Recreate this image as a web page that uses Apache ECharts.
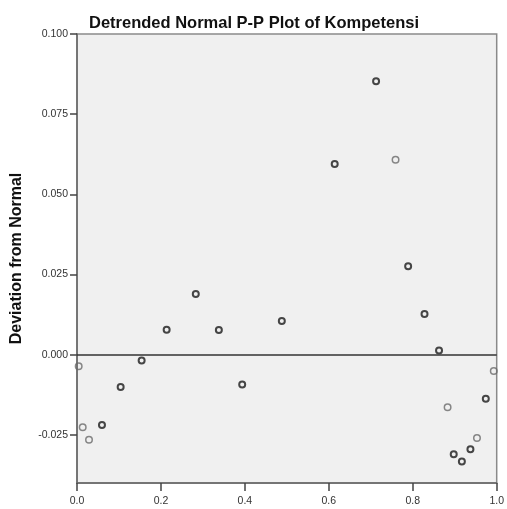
<!DOCTYPE html>
<html lang="en">
<head>
    <meta charset="UTF-8">
    <title>Detrended Normal P-P Plot of Kompetensi</title>
    <script type="text/javascript" src="https://cdn.jsdelivr.net/npm/echarts@6/dist/echarts.min.js"></script>
    <style>
        html, body { margin: 0; padding: 0; background: #fff; }
    </style>
</head>
<body>
<div id="main" style="width:507px;height:509px;"></div>
<script type="text/javascript">
    // observed cum prob vs deviation from normal - darker rings (ties)
    var darkX = [0.7126, 0.614, 0.789, 0.283, 0.2136, 0.338, 0.488, 0.828, 0.8626,
                 0.154, 0.104, 0.3936, 0.0595, 0.974, 0.8976, 0.917, 0.9374];
    var darkY = [0.0853, 0.0595, 0.0276, 0.0189, 0.0078, 0.0077, 0.0105, 0.0127, 0.0013,
                 -0.0018, -0.0101, -0.0093, -0.0219, -0.0137, -0.031, -0.0333, -0.0295];
    // lighter rings
    var lightX = [0.759, 0.004, 0.0136, 0.0286, 0.883, 0.993, 0.953];
    var lightY = [0.0608, -0.0036, -0.0226, -0.0265, -0.0164, -0.0051, -0.026];

    var xTicks = [0.0, 0.2, 0.4, 0.6, 0.8, 1.0];
    var yTicks = [-0.025, 0.000, 0.025, 0.050, 0.075, 0.100];

    function pairs(xs, ys) {
        var out = [];
        for (var i = 0; i < xs.length; i++) {
            out.push([xs[i], ys[i]]);
        }
        return out;
    }

    var myChart = echarts.init(document.getElementById('main'));
    var option = {
        animation: false,
        title: {
            text: 'Detrended Normal P-P Plot of Kompetensi',
            left: 249,
            textAlign: 'center',
            top: 10,
            textStyle: {
                fontFamily: 'Liberation Sans',
                fontSize: 16.5,
                fontWeight: 'bold',
                color: '#111'
            }
        },
        grid: {
            left: 77,
            right: 10,
            top: 34,
            bottom: 26,
            show: true,
            backgroundColor: '#f0f0f0',
            borderColor: '#8a8a8a',
            borderWidth: 1.5
        },
        xAxis: {
            type: 'value',
            min: 0,
            max: 1,
            interval: 0.2,
            splitLine: { show: false },
            axisLine: { show: true, onZero: false, lineStyle: { color: '#666', width: 1.5 } },
            axisTick: { show: true, length: 8, customValues: xTicks, lineStyle: { color: '#444', width: 1.5 } },
            axisLabel: {
                fontFamily: 'Liberation Sans',
                fontSize: 10.5,
                color: '#333',
                margin: 13,
                customValues: xTicks,
                formatter: function (v) { return v.toFixed(1); }
            }
        },
        yAxis: {
            type: 'value',
            min: -0.04,
            max: 0.1,
            interval: 0.025,
            name: 'Deviation from Normal',
            nameLocation: 'middle',
            nameGap: 52,
            nameTextStyle: {
                fontFamily: 'Liberation Sans',
                fontSize: 16,
                fontWeight: 'bold',
                color: '#111'
            },
            splitLine: { show: false },
            axisLine: { show: true, onZero: false, lineStyle: { color: '#666', width: 1.5 } },
            axisTick: { show: true, length: 7, customValues: yTicks, lineStyle: { color: '#444', width: 1.5 } },
            axisLabel: {
                fontFamily: 'Liberation Sans',
                fontSize: 10.5,
                color: '#333',
                margin: 9,
                customValues: yTicks,
                formatter: function (v) { return v.toFixed(3); }
            }
        },
        series: [
            {
                type: 'scatter',
                data: pairs(lightX, lightY),
                symbol: 'circle',
                symbolSize: 6.5,
                itemStyle: { color: 'rgba(0,0,0,0)', borderColor: '#6a6a6a', borderWidth: 1.5 },
                markLine: {
                    silent: true,
                    symbol: 'none',
                    label: { show: false },
                    lineStyle: { color: '#333', width: 1.5, type: 'solid' },
                    data: [{ yAxis: 0 }]
                }
            },
            {
                type: 'scatter',
                data: pairs(darkX, darkY),
                symbol: 'circle',
                symbolSize: 6,
                itemStyle: { color: 'rgba(0,0,0,0)', borderColor: '#1a1a1a', borderWidth: 2 }
            }
        ]
    };
    myChart.setOption(option);
</script>
</body>
</html>
